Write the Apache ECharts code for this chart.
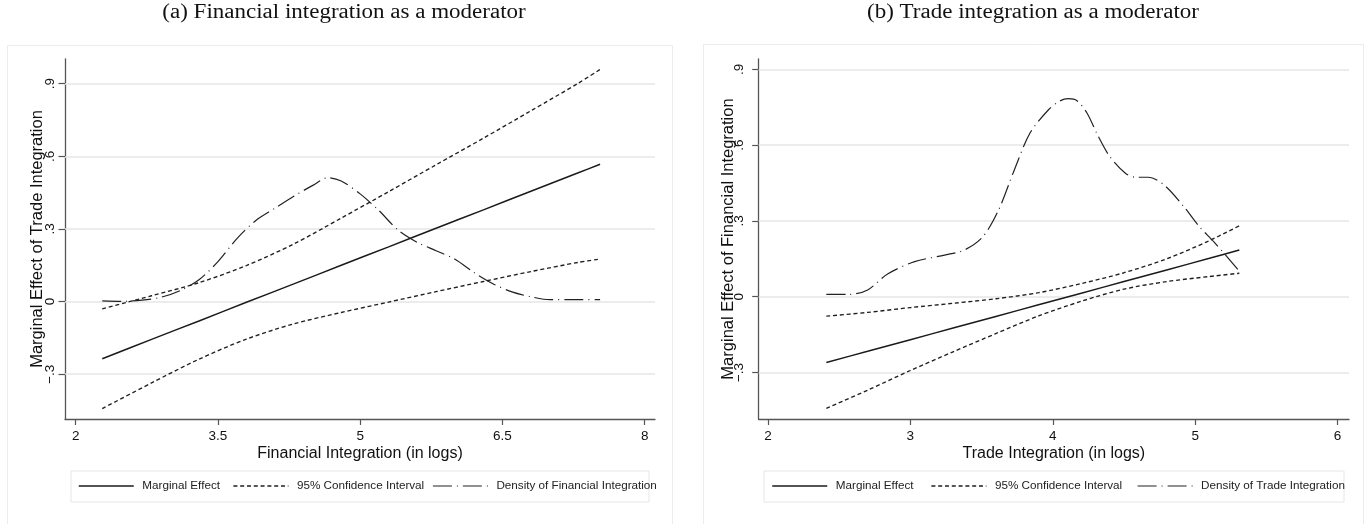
<!DOCTYPE html>
<html>
<head>
<meta charset="utf-8">
<title>Marginal effects</title>
<script src="https://cdn.jsdelivr.net/npm/echarts@6/dist/echarts.min.js"></script>
<style>
  html, body { margin: 0; padding: 0; background: #fff; }
  #echarts_me { width: 1370px; height: 524px; }
</style>
</head>
<body>
<div id="echarts_me"></div>
<script>
// (a) financial integration as moderator
var finX  = [2.28, 2.8, 3.3, 3.8, 4.3, 4.8, 5.3, 5.8, 6.3, 6.8, 7.3, 7.53];
var finME = [-0.236, -0.156, -0.080, -0.003, 0.073, 0.150, 0.226, 0.303, 0.379, 0.456, 0.532, 0.567];
var finUp = [-0.030, 0.024, 0.078, 0.149, 0.238, 0.345, 0.454, 0.565, 0.675, 0.788, 0.902, 0.959];
var finLo = [-0.442, -0.336, -0.238, -0.155, -0.092, -0.045, -0.002, 0.041, 0.083, 0.124, 0.162, 0.176];
var finDensX = [2.28, 2.48, 2.7, 2.9, 3.1, 3.3, 3.5, 3.7, 3.9, 4.1, 4.3, 4.5, 4.66, 4.8, 5.0, 5.2, 5.4, 5.6, 5.8, 6.0, 6.2, 6.4, 6.6, 6.8, 7.0, 7.3, 7.53];
var finDensY = [0.003, 0.001, 0.006, 0.018, 0.045, 0.09, 0.165, 0.26, 0.335, 0.385, 0.435, 0.48, 0.512, 0.498, 0.445, 0.375, 0.295, 0.245, 0.21, 0.175, 0.12, 0.074, 0.04, 0.02, 0.008, 0.008, 0.008];
var finXTicks = [2, 3.5, 5, 6.5, 8];
var finXTickLabels = ['2', '3.5', '5', '6.5', '8'];

// (b) trade integration as moderator
var tradeX  = [2.41, 2.7, 3.0, 3.3, 3.6, 3.9, 4.2, 4.5, 4.8, 5.1, 5.31];
var tradeME = [-0.26, -0.216, -0.170, -0.124, -0.078, -0.032, 0.014, 0.060, 0.106, 0.152, 0.185];
var tradeUp = [-0.077, -0.062, -0.043, -0.026, -0.008, 0.016, 0.052, 0.095, 0.150, 0.222, 0.281];
var tradeLo = [-0.442, -0.370, -0.292, -0.218, -0.146, -0.076, -0.018, 0.030, 0.060, 0.080, 0.093];
var tradeDensX = [2.41, 2.57, 2.70, 2.84, 3.03, 3.24, 3.38, 3.51, 3.62, 3.73, 3.84, 3.97, 4.05, 4.11, 4.17, 4.24, 4.32, 4.40, 4.51, 4.58, 4.67, 4.78, 4.92, 5.03, 5.13, 5.30];
var tradeDensY = [0.009, 0.009, 0.027, 0.09, 0.139, 0.165, 0.185, 0.238, 0.344, 0.502, 0.648, 0.74, 0.775, 0.784, 0.776, 0.727, 0.634, 0.555, 0.489, 0.473, 0.473, 0.443, 0.357, 0.277, 0.218, 0.108];
var tradeXTicks = [2, 3, 4, 5, 6];
var tradeXTickLabels = ['2', '3', '4', '5', '6'];

// shared y ticks
var yTicks = [-0.3, 0, 0.3, 0.6, 0.9];
var yTickLabels = ['\u2212.3', '0', '.3', '.6', '.9'];

var SANS = '"Liberation Sans", Arial, sans-serif';
var INK = '#1a1a1a';
var AXIS = '#555';

get_me_echarts();

function pairs(xs, ys) {
    var out = [];
    for (var i = 0; i < xs.length; i++) {
        out.push([xs[i], ys[i]]);
    }
    return out;
}

function tickLabel(ticks, labels) {
    return function (v) {
        for (var i = 0; i < ticks.length; i++) {
            if (Math.abs(ticks[i] - v) < 1e-6) return labels[i];
        }
        return '';
    };
}

function make_xaxis(idx, min, max, ticks, labels, name) {
    return {
        gridIndex: idx, type: 'value', min: min, max: max,
        axisLine: { show: true, onZero: false, lineStyle: { color: AXIS, width: 1.3 } },
        axisTick: { show: true, customValues: ticks, length: 6, lineStyle: { color: AXIS, width: 1.2 } },
        axisLabel: { customValues: ticks, formatter: tickLabel(ticks, labels), margin: 10,
                     color: '#111', fontSize: 13.5, fontFamily: SANS },
        splitLine: { show: false },
        name: name, nameLocation: 'middle', nameGap: 27, nameMoveOverlap: false,
        nameTextStyle: { color: '#111', fontSize: 16, fontFamily: SANS }
    };
}

function make_yaxis(idx, min, max, name, margin, gap) {
    return {
        gridIndex: idx, type: 'value', min: min, max: max,
        axisLine: { show: true, onZero: false, lineStyle: { color: AXIS, width: 1.3 } },
        axisTick: { show: true, customValues: yTicks, length: 6.5, lineStyle: { color: AXIS, width: 1.2 } },
        axisLabel: { customValues: yTicks, formatter: tickLabel(yTicks, yTickLabels), rotate: 90,
                     margin: margin, color: '#111', fontSize: 13.5, fontFamily: SANS },
        splitLine: { show: false },
        name: name, nameLocation: 'middle', nameGap: gap, nameMoveOverlap: false,
        nameTextStyle: { color: '#111', fontSize: 16.5, fontFamily: SANS }
    };
}

function line_series(name, idx, data, style) {
    return {
        name: name, type: 'line', xAxisIndex: idx, yAxisIndex: idx,
        data: data, symbol: 'none', smooth: 0.3, z: 3,
        lineStyle: style
    };
}

// light horizontal rules at the y ticks
function gridlines(idx) {
    var d = [];
    for (var i = 0; i < yTicks.length; i++) d.push({ yAxis: yTicks[i] });
    return {
        type: 'line', xAxisIndex: idx, yAxisIndex: idx, data: [], z: 1,
        markLine: {
            silent: true, symbol: ['none', 'none'], label: { show: false }, z: 1,
            lineStyle: { color: '#e6e6e6', width: 1.5, type: 'solid' },
            data: d
        }
    };
}

function legend_item(name, left, style) {
    return {
        data: [name], left: left, top: 480, padding: 0,
        itemWidth: 55, itemHeight: 14, selectedMode: false,
        lineStyle: style, itemStyle: { color: 'rgba(0,0,0,0)', borderWidth: 0 },
        textStyle: { color: '#222', fontSize: 11.7, fontFamily: SANS, padding: [0, 0, 0, 3.5] }
    };
}

function get_me_echarts() {
    var myChart = echarts.init(document.getElementById('echarts_me'));

    var solid = { color: INK, width: 1.5, type: 'solid' };
    var dashed = { color: '#1f1f1f', width: 1.35, type: [4, 2.8] };
    var dashdot = { color: '#222', width: 1.2, type: [19, 5, 1, 5] };

    option = {
        backgroundColor: '#fff',
        animation: false,
        graphic: [
            { type: 'rect', shape: { x: 7.5, y: 45.5, width: 665, height: 490 },
              style: { fill: '#fff', stroke: '#ececec', lineWidth: 1 }, z: -10 },
            { type: 'rect', shape: { x: 703.5, y: 44.5, width: 660, height: 490 },
              style: { fill: '#fff', stroke: '#ececec', lineWidth: 1 }, z: -10 },
            { type: 'rect', shape: { x: 71, y: 471, width: 578, height: 31 },
              style: { fill: 'none', stroke: '#e6e6e6', lineWidth: 1 }, z: -5 },
            { type: 'rect', shape: { x: 764, y: 471, width: 580, height: 31 },
              style: { fill: 'none', stroke: '#e6e6e6', lineWidth: 1 }, z: -5 },
            { type: 'text', x: 344, y: 13, scaleX: 1.15,
              style: { text: '(a) Financial integration as a moderator', fill: '#111',
                       font: '20px "Liberation Serif", serif', align: 'center', verticalAlign: 'middle' } },
            { type: 'text', x: 1033, y: 13, scaleX: 1.15,
              style: { text: '(b) Trade integration as a moderator', fill: '#111',
                       font: '20px "Liberation Serif", serif', align: 'center', verticalAlign: 'middle' } }
        ],
        legend: [
            legend_item('Marginal Effect', 78, solid),
            legend_item('95% Confidence Interval', 232.7, dashed),
            legend_item('Density of Financial Integration', 432.3, dashdot),
            legend_item('Marginal Effect', 771.5, solid),
            legend_item('95% Confidence Interval', 930.7, dashed),
            legend_item('Density of Trade Integration', 1137, dashdot)
        ],
        grid: [
            { left: 65, top: 59, width: 590, height: 360 },
            { left: 758.7, top: 59, width: 590.3, height: 360 }
        ],
        xAxis: [
            make_xaxis(0, 1.887, 8.109, finXTicks, finXTickLabels, 'Financial Integration (in logs)'),
            make_xaxis(1, 1.935, 6.08, tradeXTicks, tradeXTickLabels, 'Trade Integration (in logs)')
        ],
        yAxis: [
            make_yaxis(0, -0.485, 1.002, 'Marginal Effect of Trade Integration', 8, 19),
            make_yaxis(1, -0.484, 0.941, 'Marginal Effect of Financial Integration', 12, 22)
        ],
        series: [
            gridlines(0),
            gridlines(1),
            line_series('Marginal Effect', 0, pairs(finX, finME), solid),
            line_series('95% Confidence Interval', 0, pairs(finX, finUp), dashed),
            line_series('95% Confidence Interval', 0, pairs(finX, finLo), dashed),
            line_series('Density of Financial Integration', 0, pairs(finDensX, finDensY), dashdot),
            line_series('Marginal Effect', 1, pairs(tradeX, tradeME), solid),
            line_series('95% Confidence Interval', 1, pairs(tradeX, tradeUp), dashed),
            line_series('95% Confidence Interval', 1, pairs(tradeX, tradeLo), dashed),
            line_series('Density of Trade Integration', 1, pairs(tradeDensX, tradeDensY), dashdot)
        ]
    };

    myChart.setOption(option);
}
</script>
</body>
</html>
